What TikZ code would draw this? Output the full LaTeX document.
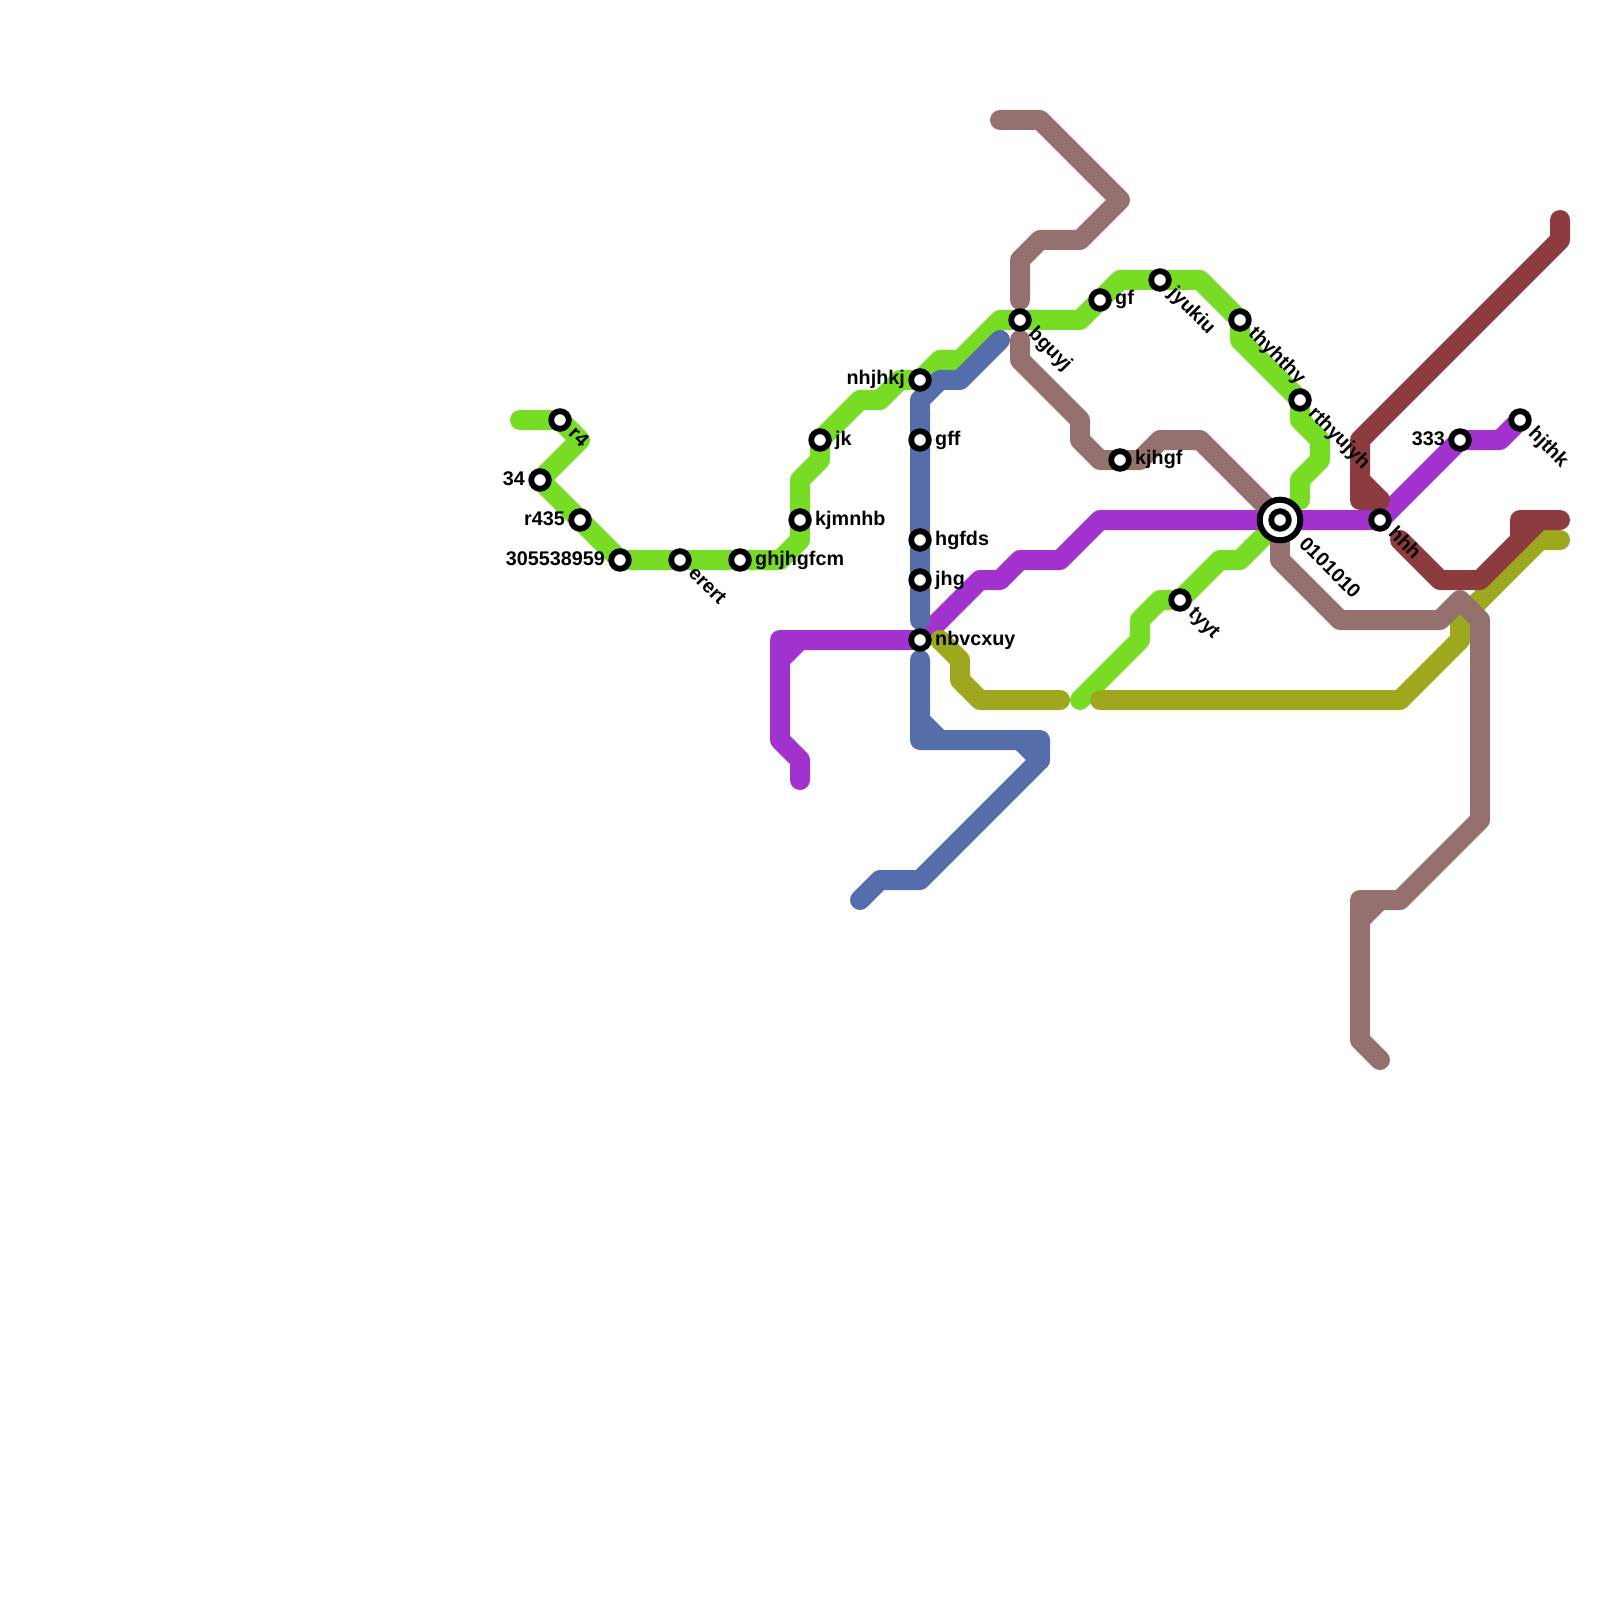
\documentclass[tikz,border=0pt]{standalone}
\usepackage{fontspec}
\setmainfont{Liberation Sans}
\usetikzlibrary{backgrounds}

\definecolor{greenline}{HTML}{76DD24}
\definecolor{purpleline}{HTML}{A232CE}
\definecolor{blueline}{HTML}{566DAB}
\definecolor{oliveline}{HTML}{9EA81F}
\definecolor{redline}{HTML}{8C3C3F}
\definecolor{brownline}{HTML}{94706E}

\tikzset{
    metro/.style={line width=2mm,line cap=round,line join=round},
    station/.style={circle,draw=black,fill=white,line width=0.58mm,minimum size=1.76mm,inner sep=0pt},
    hub/.style={circle,draw=black,fill=white,line width=0.6mm,minimum size=4.06mm,inner sep=0pt},
    lbl/.style={font=\fontsize{5.62pt}{6pt}\selectfont\bfseries,inner sep=0pt},
    lblright/.style={lbl,anchor=base west,xshift=1.45mm,yshift=-0.5mm},
    lblleft/.style={lbl,anchor=base east,xshift=-1.45mm,yshift=-0.5mm},
    lbldiag/.style={lbl,anchor=base west,xshift=0.71mm,yshift=-1.41mm,rotate=-45},
    lblhub/.style={lbl,anchor=base west,xshift=1.77mm,yshift=-2.47mm,rotate=-45},
}

\begin{document}
\begin{tikzpicture}[x=2mm,y=-2mm]
    \useasboundingbox (0,0) rectangle (80,80);

    % stations
    \node[station] (r4) at (28,21) {};
    \node[station] (st34) at (27,24) {};
    \node[station] (r435) at (29,26) {};
    \node[station] (num) at (31,28) {};
    \node[station] (erert) at (34,28) {};
    \node[station] (ghj) at (37,28) {};
    \node[station] (kjm) at (40,26) {};
    \node[station] (jk) at (41,22) {};
    \node[station] (nhj) at (46,19) {};
    \node[station] (gff) at (46,22) {};
    \node[station] (hgfds) at (46,27) {};
    \node[station] (jhg) at (46,29) {};
    \node[station] (nbv) at (46,32) {};
    \node[station] (bgu) at (51,16) {};
    \node[station] (gf) at (55,15) {};
    \node[station] (jyu) at (58,14) {};
    \node[station] (kjh) at (56,23) {};
    \node[station] (thy) at (62,16) {};
    \node[station] (rth) at (65,20) {};
    \node[station] (tyyt) at (59,30) {};
    \node[hub] (hubring) at (64,26) {};
    \node[station] (hub) at (64,26) {};
    \node[station] (hhh) at (69,26) {};
    \node[station] (st333) at (73,22) {};
    \node[station] (hjt) at (76,21) {};

    % labels
    \node[lbldiag] (r4txt) at (r4) {r4};
    \node[lblleft] (st34txt) at (st34) {34};
    \node[lblleft] (r435txt) at (r435) {r435};
    \node[lblleft] (numtxt) at (num) {305538959};
    \node[lbldiag] (ererttxt) at (erert) {erert};
    \node[lblright] (ghjtxt) at (ghj) {ghjhgfcm};
    \node[lblright] (kjmtxt) at (kjm) {kjmnhb};
    \node[lblright] (jktxt) at (jk) {jk};
    \node[lblleft] (nhjtxt) at (nhj) {nhjhkj};
    \node[lblright] (gfftxt) at (gff) {gff};
    \node[lblright] (hgfdstxt) at (hgfds) {hgfds};
    \node[lblright] (jhgtxt) at (jhg) {jhg};
    \node[lblright] (nbvtxt) at (nbv) {nbvcxuy};
    \node[lbldiag] (bgutxt) at (bgu) {bguyj};
    \node[lblright] (gftxt) at (gf) {gf};
    \node[lbldiag] (jyutxt) at (jyu) {jyukiu};
    \node[lblright] (kjhtxt) at (kjh) {kjhgf};
    \node[lbldiag] (thytxt) at (thy) {thyhthy};
    \node[lbldiag] (rthtxt) at (rth) {rthyujyh};
    \node[lbldiag] (tyyttxt) at (tyyt) {tyyt};
    \node[lblhub] (hubtxt) at (hub) {0101010};
    \node[lbldiag] (hhhtxt) at (hhh) {hhh};
    \node[lblleft] (st333txt) at (st333) {333};
    \node[lbldiag] (hjttxt) at (hjt) {hjthk};

    % lines
    \begin{pgfonlayer}{background}
    \draw[metro,greenline] (26,21) -- (r4.center) -- (29,22) -- (st34.center) -- (r435.center) -- (num.center) -- (erert.center) -- (ghj.center) -- (39,28) -- (40,27) -- (kjm.center) -- (40,24) -- (41,23) -- (jk.center) -- (43,20) -- (44,20) -- (45,19) -- (nhj.center) -- (47,18) -- (48,18) -- (50,16) -- (bgu.center) -- (54,16) -- (gf.center) -- (56,14) -- (jyu.center) -- (60,14) -- (thy.center) -- (62,17) -- (rth.center) -- (65,21) -- (66,22) -- (66,23) -- (65,24) -- (65,25);
    \draw[metro,greenline] (hub.center) -- (62,28) -- (61,28) -- (tyyt.center) -- (58,30) -- (57,31) -- (57,32) -- (54,35);

    \draw[metro,purpleline] (40,39) -- (40,38) -- (39,37) -- (39,32) -- (nbv.center) -- (49,29) -- (50,29) -- (51,28) -- (53,28) -- (55,26) -- (hub.center) -- (hhh.center) -- (st333.center) -- (75,22) -- (hjt.center);
    \draw[metro,purpleline] (39,33) -- (40,32);

    \draw[metro,blueline] (50,17) -- (48,19) -- (47,19) -- (46,20) -- (46,31);
    \draw[metro,blueline] (46,33) -- (46,37) -- (52,37) -- (52,38) -- (46,44) -- (44,44) -- (43,45);
    \draw[metro,blueline] (46,36) -- (47,37);
    \draw[metro,blueline] (51,37) -- (52,38);

    \draw[metro,oliveline] (47,32) -- (48,33) -- (48,34) -- (49,35) -- (53,35);
    \draw[metro,oliveline] (55,35) -- (70,35) -- (73,32) -- (73,31) -- (77,27) -- (78,27);

    \draw[metro,redline] (78,11) -- (78,12) -- (68,22) -- (68,25) -- (69,25);
    \draw[metro,redline] (68,24) -- (69,25);
    \draw[metro,redline] (70,27) -- (72,29) -- (74,29) -- (76,27) -- (76,26) -- (78,26);
    \draw[metro,redline] (77,26) -- (76,27);

    \draw[metro,brownline] (50,6) -- (52,6) -- (56,10) -- (54,12) -- (52,12) -- (51,13) -- (51,15);
    \draw[metro,brownline] (51,17) -- (51,18) -- (54,21) -- (54,22) -- (55,23) -- (kjh.center) -- (57,23) -- (58,22) -- (60,22) -- (hub.center) -- (64,28) -- (67,31) -- (72,31) -- (73,30) -- (74,31) -- (74,41) -- (70,45) -- (68,45) -- (68,52) -- (69,53);
    \draw[metro,brownline] (69,45) -- (68,46);
    \end{pgfonlayer}
\end{tikzpicture}
\end{document}
